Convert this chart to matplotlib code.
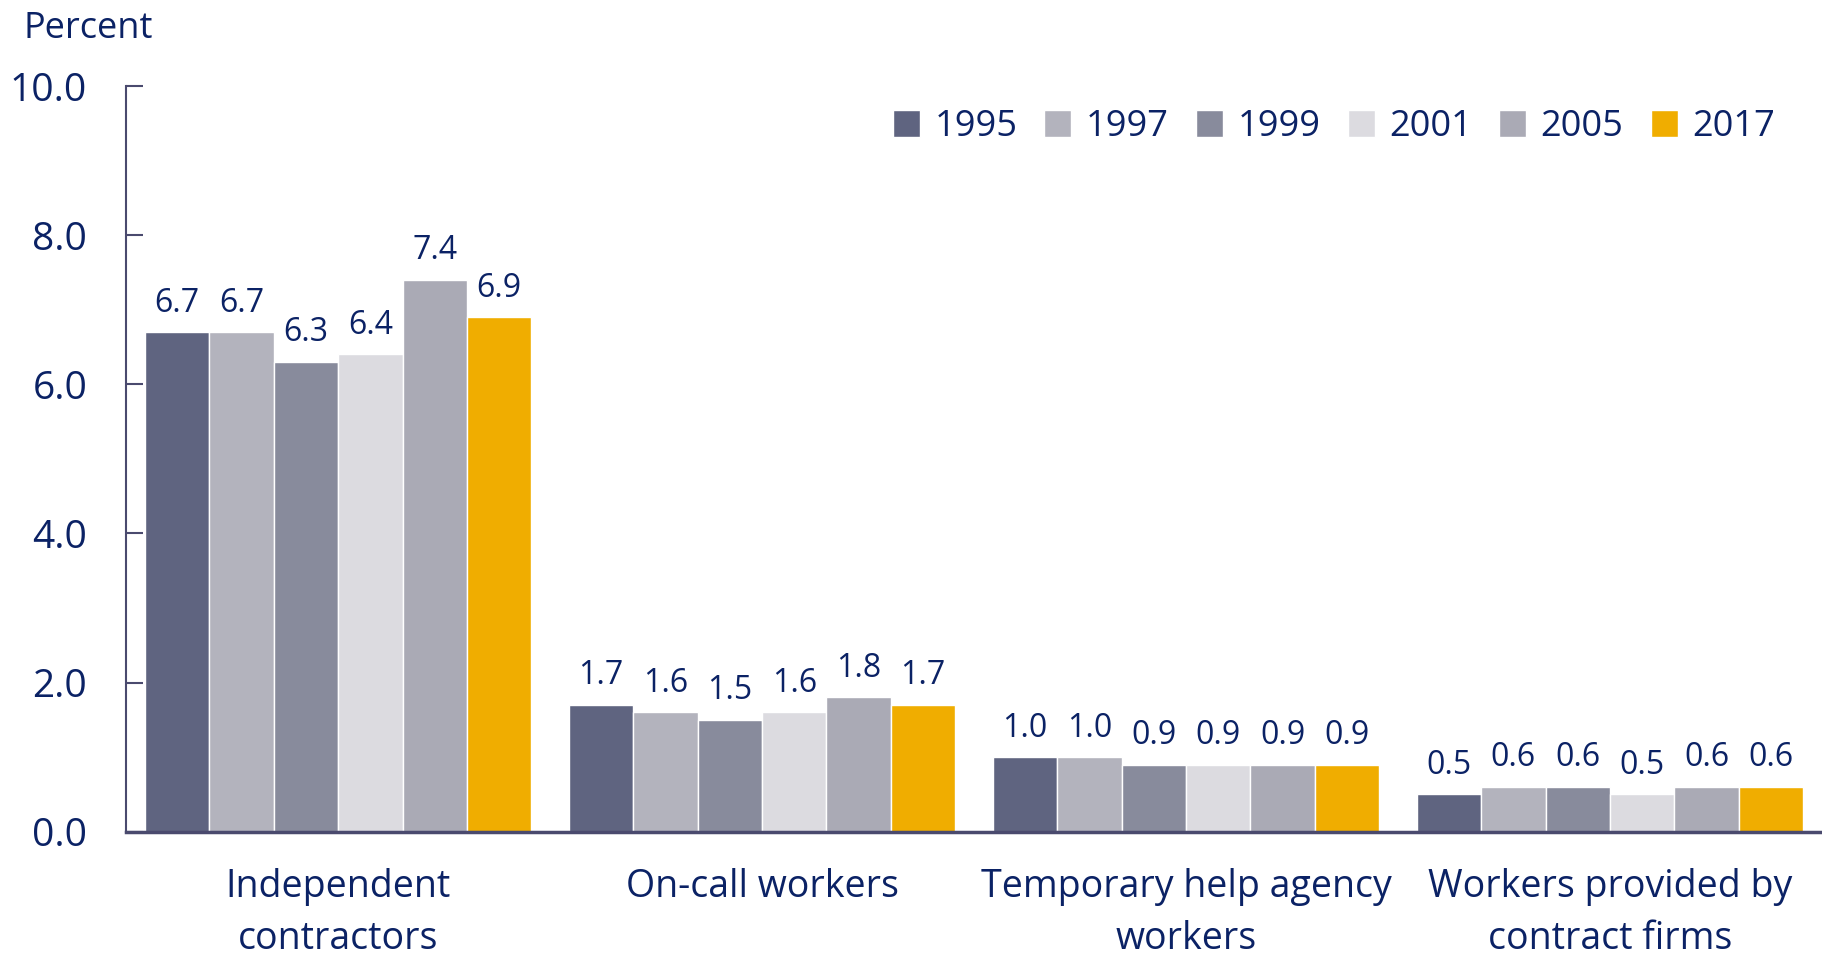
import matplotlib.pyplot as plt
import numpy as np

categories = ['Independent\ncontractors', 'On-call workers',
              'Temporary help agency\nworkers', 'Workers provided by\ncontract firms']
years = ['1995', '1997', '1999', '2001', '2005', '2017']
v1995 = [6.7, 1.7, 1.0, 0.5]
v1997 = [6.7, 1.6, 1.0, 0.6]
v1999 = [6.3, 1.5, 0.9, 0.6]
v2001 = [6.4, 1.6, 0.9, 0.5]
v2005 = [7.4, 1.8, 0.9, 0.6]
v2017 = [6.9, 1.7, 0.9, 0.6]
series = [v1995, v1997, v1999, v2001, v2005, v2017]
yticks = [0, 2, 4, 6, 8, 10]

colors = ['#5f6480', '#b3b3bd', '#888b9c', '#dcdbe0', '#aaaab5', '#f0ad00']
TEXT = '#0b2265'
AXIS = '#4a4a6e'

plt.rcParams['font.family'] = ['Open Sans', 'DejaVu Sans']

fig = plt.figure(figsize=(18.22, 9.56), dpi=100)
ax = fig.add_axes([0.0692, 0.130, 0.9308, 0.780])

x = np.arange(len(categories))
w = 0.152
for i, (yr, vals) in enumerate(zip(years, series)):
    pos = x + (i - 2.5) * w
    bars = ax.bar(pos, vals, w, color=colors[i], edgecolor='white', linewidth=1, label=yr)
    for b, v in zip(bars, vals):
        ax.annotate(f'{v:.1f}', (b.get_x() + b.get_width() / 2, v),
                    xytext=(0, 9), textcoords='offset points',
                    ha='center', va='bottom', fontsize=23, color=TEXT)

ax.set_xlim(-0.5, 3.5)
ax.set_ylim(0, 10)
ax.set_yticks(yticks)
ax.set_yticklabels([f'{t:.1f}' for t in yticks])
ax.set_xticks(x)
ax.set_xticklabels(categories, linespacing=1.5)
ax.tick_params(axis='y', direction='in', length=12, width=1.5, color=AXIS,
               labelsize=28, labelcolor=TEXT, pad=28)
ax.tick_params(axis='x', length=0, labelsize=27, labelcolor=TEXT, pad=26)
for s in ['top', 'right']:
    ax.spines[s].set_visible(False)
ax.spines['left'].set_color(AXIS)
ax.spines['bottom'].set_color(AXIS)
ax.spines['left'].set_linewidth(1.5)
ax.spines['bottom'].set_linewidth(2.5)

fig.text(0.013, 0.970, 'Percent', fontsize=26, color=TEXT, ha='left', va='center')

leg = ax.legend(ncol=6, loc='center right', bbox_to_anchor=(0.992, 0.867),
                bbox_transform=fig.transFigure, frameon=False, fontsize=26,
                handlelength=0.75, handleheight=0.75, handletextpad=0.4,
                columnspacing=0.75, labelcolor=TEXT)

fig.savefig('out.png', dpi=100)
